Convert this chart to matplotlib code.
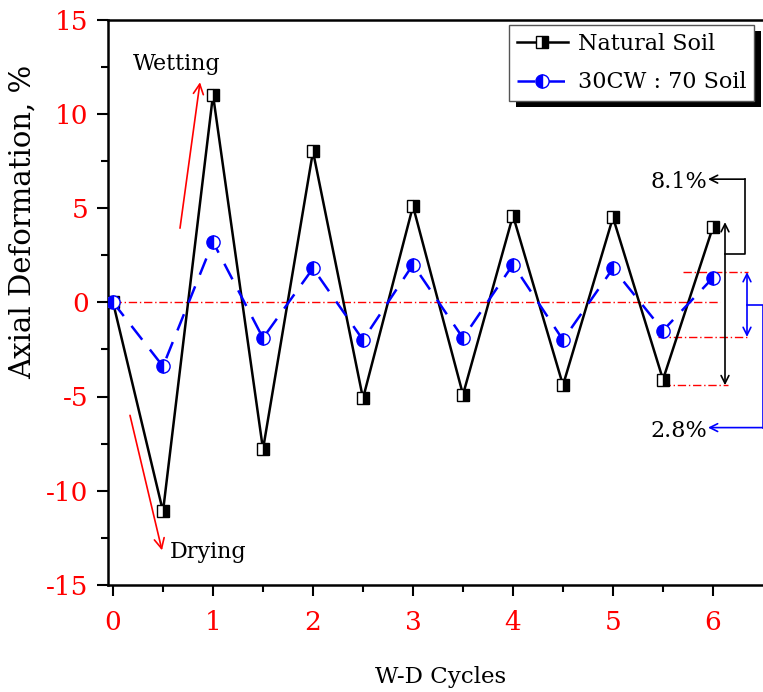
import matplotlib
matplotlib.use("Agg")
import matplotlib.pyplot as plt
from matplotlib.patches import Rectangle
import numpy as np

cycles = [0, 0.5, 1, 1.5, 2, 2.5, 3, 3.5, 4, 4.5, 5, 5.5, 6]
natural_soil = [0, -11.1, 11.0, -7.8, 8.0, -5.1, 5.1, -4.9, 4.6, -4.4, 4.5, -4.1, 4.0]
cw_soil = [0, -3.4, 3.2, -1.9, 1.8, -2.0, 2.0, -1.9, 2.0, -2.0, 1.8, -1.5, 1.3]
x_ticks = [0, 1, 2, 3, 4, 5, 6]
y_ticks = [-15, -10, -5, 0, 5, 10, 15]

plt.rcParams['font.family'] = ['DejaVu Serif']
plt.rcParams['axes.unicode_minus'] = False

fig = plt.figure(figsize=(7.63, 6.92), dpi=100)
ax = fig.add_axes([108/763, 1-585/692, 1-108/763, (585-19.5)/692])

ax.plot(cycles, natural_soil, color='black', lw=1.8, marker='s', ms=8,
        fillstyle='right', markerfacecolor='black', markerfacecoloralt='white',
        markeredgecolor='black', markeredgewidth=1.0, label='Natural Soil', zorder=3)
ax.plot(cycles, cw_soil, color='blue', lw=1.8, ls=(0, (7, 5)), marker='o', ms=9.5,
        fillstyle='left', markerfacecolor='blue', markerfacecoloralt='white',
        markeredgecolor='blue', markeredgewidth=1.0, label='30CW : 70 Soil', zorder=3)

ax.set_xlim(-0.05, 6.5)
ax.set_ylim(-15, 15)
ax.set_xticks(x_ticks)
ax.set_yticks(y_ticks)
ax.set_xticks(np.arange(0.5, 6.5, 1), minor=True)
ax.set_yticks(np.arange(-12.5, 15, 5), minor=True)
ax.tick_params(axis='both', which='major', direction='out', length=8, width=1.5,
               labelcolor='red', labelsize=19)
ax.tick_params(axis='both', which='minor', direction='out', length=5, width=1.5)
ax.tick_params(axis='y', pad=6)
ax.tick_params(axis='x', pad=10)
ax.tick_params(top=False, right=False, which='both')
ax.spines['right'].set_visible(False)
for s in ['left', 'bottom', 'top']:
    ax.spines[s].set_linewidth(1.8)

fig.text(441/763, 1-677/692, 'W-D Cycles', fontsize=16.5, ha='center', va='center')
fig.text(23/763, 1-222/692, 'Axial Deformation, %', fontsize=21, ha='center',
         va='center', rotation=90)

# reference lines
rl = dict(color='red', ls=(0, (6, 2, 1, 2)), lw=1.0, zorder=2)
ax.plot([0, 6.07], [0, 0], **rl)
ax.plot([5.7, 6.35], [1.6, 1.6], **rl)
ax.plot([5.45, 6.35], [-1.84, -1.84], **rl)
ax.plot([5.49, 6.15], [-4.4, -4.4], **rl)

# black range arrow + bracket
ax.annotate('', xy=(6.12, 4.25), xytext=(6.12, -4.4),
            arrowprops=dict(arrowstyle='<->', color='black', lw=1.2, mutation_scale=14,
                            shrinkA=0, shrinkB=0))
ax.plot([6.12, 6.32, 6.32], [2.55, 2.55, 6.53], color='black', lw=1.2)
ax.annotate('', xy=(5.95, 6.53), xytext=(6.32, 6.53),
            arrowprops=dict(arrowstyle='->', color='black', lw=1.2, mutation_scale=14,
                            shrinkA=0, shrinkB=0))
ax.text(5.94, 6.4, '8.1%', fontsize=16, ha='right', va='center')

# blue range arrow + bracket
ax.annotate('', xy=(6.34, 1.6), xytext=(6.34, -1.84),
            arrowprops=dict(arrowstyle='<->', color='blue', lw=1.2, mutation_scale=14,
                            shrinkA=0, shrinkB=0))
ax.plot([6.34, 6.5, 6.5], [-0.16, -0.16, -6.65], color='blue', lw=1.2, clip_on=False)
ax.annotate('', xy=(5.95, -6.65), xytext=(6.5, -6.65),
            arrowprops=dict(arrowstyle='->', color='blue', lw=1.2, mutation_scale=14,
                            shrinkA=0, shrinkB=0))
ax.text(5.94, -6.85, '2.8%', fontsize=16, ha='right', va='center')

# wetting / drying arrows
ax.annotate('', xy=(0.87, 11.67), xytext=(0.67, 3.93),
            arrowprops=dict(arrowstyle='->', color='red', lw=1.2, mutation_scale=18,
                            shrinkA=0, shrinkB=0))
ax.annotate('', xy=(0.49, -13.16), xytext=(0.17, -6.0),
            arrowprops=dict(arrowstyle='->', color='red', lw=1.2, mutation_scale=18,
                            shrinkA=0, shrinkB=0))
ax.text(0.64, 12.63, 'Wetting', fontsize=16, ha='center', va='center')
ax.text(0.57, -13.25, 'Drying', fontsize=16, ha='left', va='center')

leg = ax.legend(loc='upper right', bbox_to_anchor=(754/763, 1-25/692),
                bbox_transform=fig.transFigure, fontsize=16, frameon=True,
                fancybox=False, edgecolor='#555555', framealpha=1,
                borderpad=0.35, handlelength=2.3, handletextpad=0.45, labelspacing=0.75,
                borderaxespad=0)
leg.get_frame().set_linewidth(1.0)
leg.set_zorder(6)

fig.canvas.draw()
bb = leg.get_window_extent()
shadow = Rectangle((bb.x0 + 7, bb.y0 - 6), bb.width, bb.height, transform=None,
                   facecolor='black', edgecolor='none', zorder=5.5, clip_on=False)
ax.add_artist(shadow)

fig.savefig('out.png', dpi=100)
